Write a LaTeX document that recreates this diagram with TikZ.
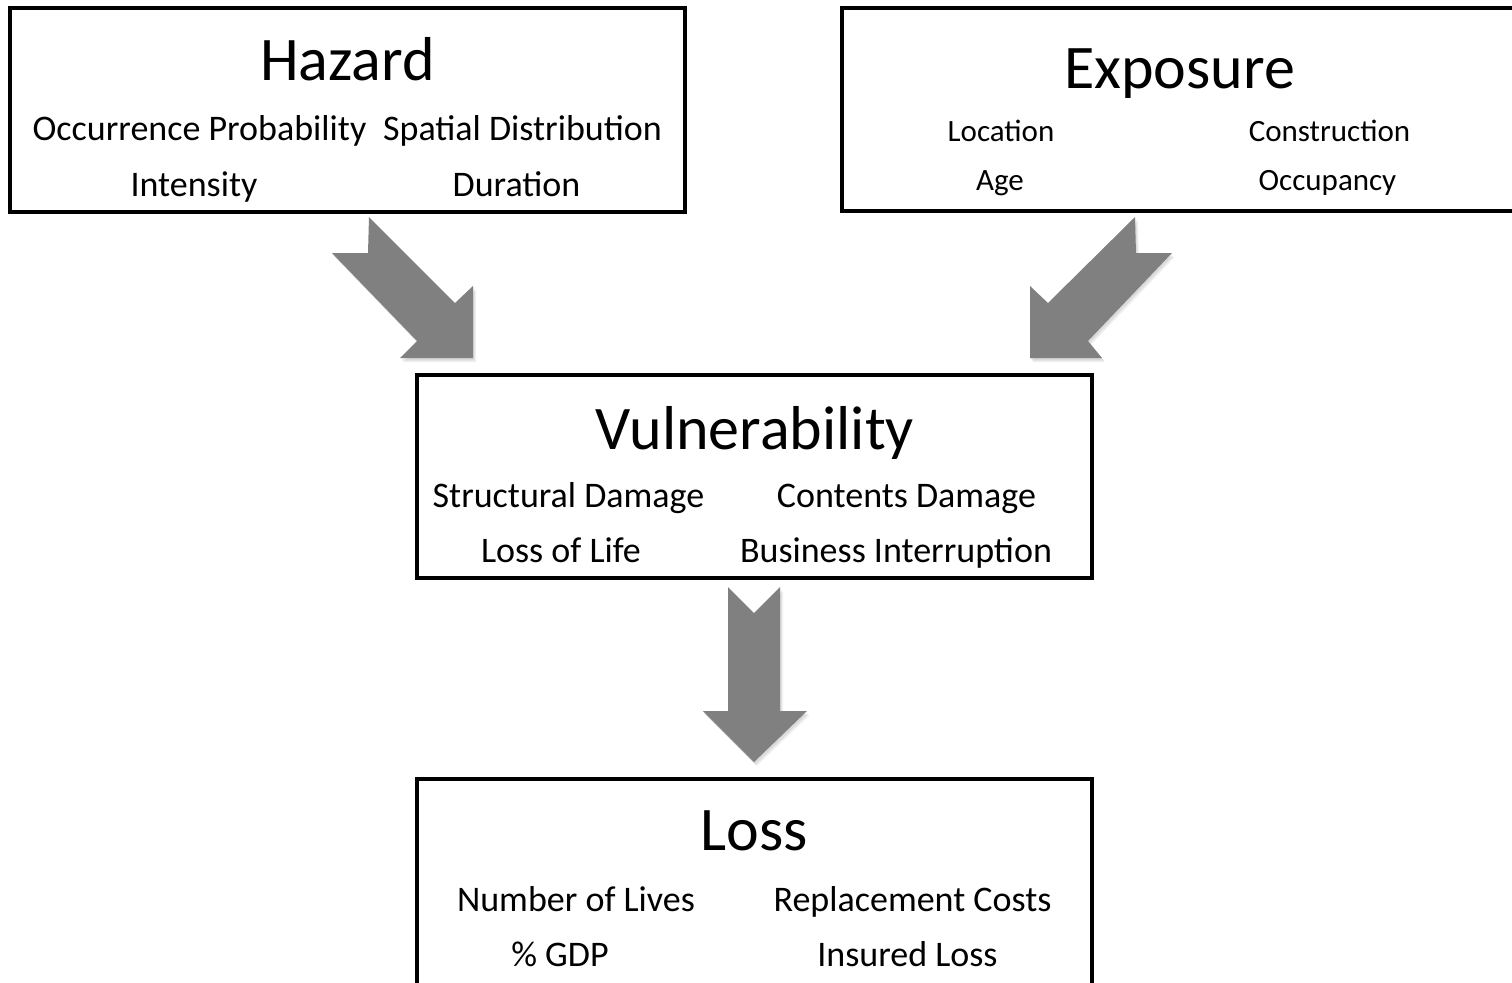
\documentclass[tikz,border=0pt]{standalone}
\usepackage{fontspec}
\setmainfont{Carlito}
\usetikzlibrary{fit}
\definecolor{arrowgrey}{HTML}{808080}
\begin{document}
\begin{tikzpicture}[x=0.5pt,y=-0.5pt,
  box/.style={draw=black, line width=1.9pt, inner sep=0pt, fill=white},
  ttl/.style={anchor=base, inner sep=0pt, font=\fontsize{31}{37}\selectfont},
  sub/.style={anchor=base, inner sep=0pt, font=\fontsize{18}{22}\selectfont},
  subs/.style={anchor=base, inner sep=0pt, font=\fontsize{15.5}{19}\selectfont},
  blockarrow/.style={fill=arrowgrey, draw=none},
  blockshadow/.style={fill=black, opacity=0.05, draw=none}]
\useasboundingbox (0,0) rectangle (1512,982);
\clip (0,0) rectangle (1512,982);
\fill[white] (0,0) rectangle (1512,982);

% boxes
\node[box, fit={(10,8) (685,212)}] (hazard) {};
\node[box, fit={(842,8) (1530,211)}] (exposure) {};
\node[box, fit={(417,375) (1092,578)}] (vuln) {};
\node[box, fit={(417,779) (1092,1010)}] (loss) {};

% Hazard texts
\node[ttl] (hzt) at (347.5,80) {Hazard};
\node[sub] (hz1) at (199.5,140) {Occurrence Probability};
\node[sub] (hz2) at (522.5,140) {Spatial Distribution};
\node[sub] (hz3) at (194,196) {Intensity};
\node[sub] (hz4) at (516.5,196) {Duration};

% Exposure texts
\node[ttl] (ext) at (1179.5,88) {Exposure};
\node[subs] (ex1) at (1001,141) {Location};
\node[subs] (ex2) at (1329.5,141) {Construction};
\node[subs] (ex3) at (1000,190) {Age};
\node[subs] (ex4) at (1327.5,190) {Occupancy};

% Vulnerability texts
\node[ttl] (vut) at (755,449) {Vulnerability};
\node[sub] (vu1) at (568.5,507) {Structural Damage};
\node[sub] (vu2) at (906.5,507) {Contents Damage};
\node[sub] (vu3) at (561,562) {Loss of Life};
\node[sub] (vu4) at (896,562) {Business Interruption};

% Loss texts
\node[ttl] (lot) at (754.5,850) {Loss};
\node[sub] (lo1) at (576,911) {Number of Lives};
\node[sub] (lo2) at (912.5,911) {Replacement Costs};
\node[sub] (lo3) at (560,966) {\% GDP};
\node[sub] (lo4) at (907.5,966) {Insured Loss};

% block arrows: soft shadows
\foreach \dx/\dy in {1/2, 2/3, 3/4}{
\begin{scope}[shift={(\dx,\dy)}]
\fill[blockshadow] (369,217) -- (455,303) -- (473,286) -- (473,358) -- (400,358) -- (417,341) -- (332,253) -- (368,253) -- cycle;
\fill[blockshadow] (1135,217) -- (1048,303) -- (1030,286) -- (1030,358) -- (1102,358) -- (1088,341) -- (1172,253) -- (1136,253) -- cycle;
\fill[blockshadow] (728,587) -- (754,613) -- (780,587) -- (780,711) -- (807,711) -- (754,762) -- (703,711) -- (728,711) -- cycle;
\end{scope}}
% block arrows
\fill[blockarrow] (369,217) -- (455,303) -- (473,286) -- (473,358) -- (400,358) -- (417,341) -- (332,253) -- (368,253) -- cycle;
\fill[blockarrow] (1135,217) -- (1048,303) -- (1030,286) -- (1030,358) -- (1102,358) -- (1088,341) -- (1172,253) -- (1136,253) -- cycle;
\fill[blockarrow] (728,587) -- (754,613) -- (780,587) -- (780,711) -- (807,711) -- (754,762) -- (703,711) -- (728,711) -- cycle;
\end{tikzpicture}
\end{document}
